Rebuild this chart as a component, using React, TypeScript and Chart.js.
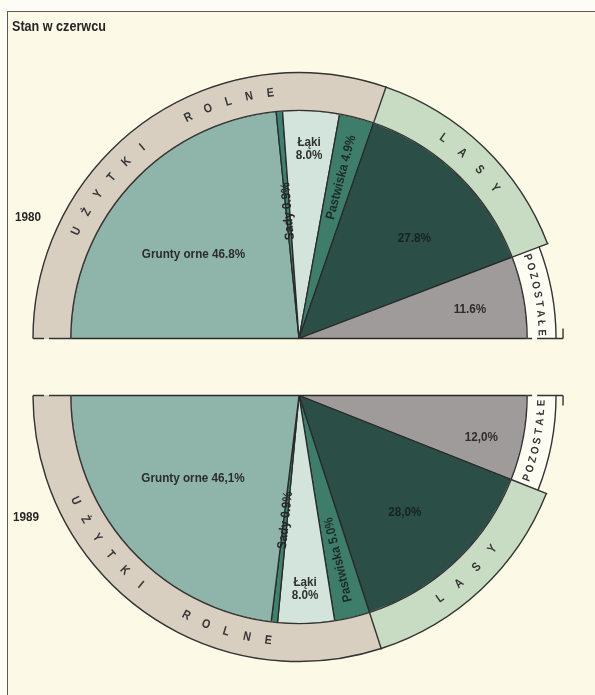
import React, { useEffect, useRef } from 'react';
import { Chart, registerables } from 'chart.js';

Chart.register(...registerables);

// ---------- data ----------
const title = 'Stan w czerwcu';
const years = ['1980', '1989'];
const categories = ['Grunty orne', 'Sady', 'Łąki', 'Pastwiska', 'Lasy', 'Pozostałe'];
const values1980 = [46.8, 0.9, 8.0, 4.9, 27.8, 11.6];
const values1989 = [46.1, 0.9, 8.0, 5.0, 28.0, 12.0];
const sliceLabels1980 = ['Grunty orne 46.8%', 'Sady 0.9%', 'Łąki\n8.0%', 'Pastwiska 4.9%', '27.8%', '11.6%'];
const sliceLabels1989 = ['Grunty orne 46,1%', 'Sady 0.9%', 'Łąki\n8.0%', 'Pastwiska 5.0%', '28,0%', '12,0%'];
const groupNames = ['UŻYTKI ROLNE', 'LASY', 'POZOSTAŁE'];
const groupOfCategory = [0, 0, 0, 0, 1, 2];

// ---------- styles ----------
const SLICE_COLORS = ['#8fb5aa', '#3c826e', '#d2e4dc', '#3e7d69', '#2b4e46', '#a09b9b'];
const GROUP_COLORS = ['#d9cfc1', '#c8dcc4', '#fdfdf4'];
const LABEL_COLORS = ['#2c2c2c', '#262626', '#303030', '#1d2b27', '#17231f', '#2c2c2c'];
const OUTLINE = '#333333';
const FONT_FAMILY = '"Liberation Sans", Arial, sans-serif';

type Place = { r: number; d?: number; radial?: boolean };
const PLACE_1980: Place[] = [
  { r: 0.59, d: -3.7 },
  { r: 0.56, radial: true },
  { r: 0.83 },
  { r: 0.73, radial: true },
  { r: 0.67, d: 4.9 },
  { r: 0.76, d: 0.8 },
];
const PLACE_1989: Place[] = [
  { r: 0.59, d: -3.4 },
  { r: 0.55, radial: true },
  { r: 0.85 },
  { r: 0.74, radial: true },
  { r: 0.69, d: -1.0 },
  { r: 0.82, d: -2.1 },
];
const RING_TEXT = [
  { step: 21.5, gap: 55, font: `bold 12.5px ${FONT_FAMILY}`, sx: 0.85 },
  { step: 24, gap: 0, font: `bold 12.5px ${FONT_FAMILY}`, sx: 0.85 },
  { step: 9.6, gap: 0, font: `bold 11px ${FONT_FAMILY}`, sx: 0.88 },
];

function drawText(ctx: CanvasRenderingContext2D, text: string, x: number, y: number, rot: number, font: string, color: string, sx: number) {
  ctx.save();
  ctx.translate(x, y);
  ctx.rotate(rot);
  ctx.scale(sx, 1);
  ctx.font = font;
  ctx.fillStyle = color;
  ctx.textAlign = 'center';
  ctx.textBaseline = 'middle';
  ctx.fillText(text, 0, 0);
  ctx.restore();
}

function makeChart(
  canvas: HTMLCanvasElement,
  values: number[],
  labels: string[],
  placement: Place[],
  flip: boolean,
  padding: { left: number; right: number; top: number; bottom: number }
) {
  const n = values.length;
  const idx = values.map((_, i) => i);
  const order = flip ? [...idx].reverse() : idx;
  const gOrder = flip ? [2, 1, 0] : [0, 1, 2];
  const dir = flip ? -1 : 1;
  const groupTotals = groupNames.map((_, g) =>
    values.reduce((s, v, i) => (groupOfCategory[i] === g ? s + v : s), 0)
  );

  const decor = {
    id: 'decor',
    afterDatasetsDraw(chart: any) {
      const ctx: CanvasRenderingContext2D = chart.ctx;
      const outerEls = chart.getDatasetMeta(0).data as any[];
      const midEls = chart.getDatasetMeta(1).data as any[];
      const pieEls = chart.getDatasetMeta(2).data as any[];
      const cx = pieEls[0].x;
      const cy = pieEls[0].y;
      const pieR = pieEls[0].outerRadius;
      const rOut = outerEls[0].outerRadius;
      const rMid = midEls[0].outerRadius;
      const pt = (a: number, r: number) => [cx + r * Math.cos(a), cy + r * Math.sin(a)];
      const radial = (a: number, r1: number, r2: number) => {
        const [x1, y1] = pt(a, r1);
        const [x2, y2] = pt(a, r2);
        ctx.beginPath();
        ctx.moveTo(x1, y1);
        ctx.lineTo(x2, y2);
        ctx.stroke();
      };

      ctx.save();
      ctx.strokeStyle = OUTLINE;
      ctx.lineWidth = 1.4;
      // pie outer edge
      ctx.beginPath();
      ctx.arc(cx, cy, pieR, pieEls[0].startAngle, pieEls[n - 1].endAngle);
      ctx.stroke();
      // ring outer edges
      midEls.forEach((el: any, k: number) => {
        const g = gOrder[k];
        ctx.beginPath();
        ctx.arc(cx, cy, g === 2 ? rMid : rOut, el.startAngle, el.endAngle);
        ctx.stroke();
      });
      // dividers
      for (let k = 1; k < midEls.length; k++) {
        radial(midEls[k].startAngle, pieR, rOut + 1);
      }
      // ends on the baseline
      const ends = [
        { a: midEls[0].startAngle, el: midEls[0], g: gOrder[0] },
        { a: midEls[midEls.length - 1].endAngle, el: midEls[midEls.length - 1], g: gOrder[midEls.length - 1] },
      ];
      ends.forEach(({ a, el, g }) => {
        if (g === 0) {
          ctx.setLineDash([11, 5, 40]);
          radial(a, rOut, pieR);
          ctx.setLineDash([]);
        } else {
          const rEnd = rMid + 7;
          ctx.setLineDash([5, 5, 100]);
          radial(a, pieR, rEnd);
          ctx.setLineDash([]);
          const midA = (el.startAngle + el.endAngle) / 2;
          const s = Math.sign(midA - a);
          const [px, py] = pt(a, rEnd);
          ctx.beginPath();
          ctx.moveTo(px, py);
          ctx.lineTo(px + s * -Math.sin(a) * 10, py + s * Math.cos(a) * 10);
          ctx.stroke();
        }
      });
      ctx.restore();

      // ring lettering
      midEls.forEach((el: any, k: number) => {
        const g = gOrder[k];
        const cfg = RING_TEXT[g];
        const r = g === 2 ? (pieR + rMid) / 2 : (pieR + rOut) / 2;
        const mid = (el.startAngle + el.endAngle) / 2;
        const chars: { ch: string; s: number }[] = [];
        let s = 0;
        let first = true;
        groupNames[g].split(' ').forEach((w, wi) => {
          if (wi > 0) s += cfg.gap - cfg.step;
          for (const ch of w) {
            if (!first) s += cfg.step;
            chars.push({ ch, s });
            first = false;
          }
        });
        const total = s;
        chars.forEach(({ ch, s: pos }) => {
          const a = mid + (dir * (pos - total / 2)) / r;
          const [x, y] = pt(a, r);
          drawText(ctx, ch, x, y, a + (dir * Math.PI) / 2, cfg.font, '#363636', cfg.sx);
        });
      });

      // slice labels
      pieEls.forEach((el: any, k: number) => {
        const i = order[k];
        const p = placement[i];
        const mid = (el.startAngle + el.endAngle) / 2;
        const a = mid + (dir * (p.d || 0) * Math.PI) / 180;
        const [x, y] = pt(a, p.r * pieR);
        let rot = 0;
        if (p.radial) rot = Math.sin(a) < 0 ? a : a + Math.PI;
        const lines = labels[i].split('\n');
        lines.forEach((ln, li) => {
          drawText(ctx, ln, x, y + (li - (lines.length - 1) / 2) * 13, rot, `bold 13px ${FONT_FAMILY}`, LABEL_COLORS[i], 0.9);
        });
      });
    },
  };

  const ringData = gOrder.map((g) => groupTotals[g]);
  return new Chart(canvas, {
    type: 'doughnut',
    data: {
      labels: order.map((i) => categories[i]),
      datasets: [
        {
          data: ringData,
          backgroundColor: gOrder.map((g) => (g === 2 ? 'rgba(0,0,0,0)' : GROUP_COLORS[g])),
          borderColor: gOrder.map((g) => (g === 2 ? 'rgba(0,0,0,0)' : GROUP_COLORS[g])),
          borderWidth: 1,
          weight: 9,
        } as any,
        {
          data: ringData,
          backgroundColor: gOrder.map((g) => GROUP_COLORS[g]),
          borderColor: gOrder.map((g) => GROUP_COLORS[g]),
          borderWidth: 1,
          weight: 29,
        } as any,
        {
          data: order.map((i) => values[i]),
          backgroundColor: order.map((i) => SLICE_COLORS[i]),
          borderColor: '#2a2a2a',
          borderWidth: 1.3,
          weight: 229,
        } as any,
      ],
    },
    options: {
      responsive: false,
      animation: false,
      devicePixelRatio: 1,
      events: [],
      cutout: 0,
      rotation: flip ? 90 : -90,
      circumference: 180,
      layout: { padding },
      plugins: { legend: { display: false }, tooltip: { enabled: false }, title: { display: false } },
    } as any,
    plugins: [decor],
  });
}

const textStyle = (left: number, top: number, size: number): React.CSSProperties => ({
  position: 'absolute',
  left,
  top,
  fontFamily: FONT_FAMILY,
  fontWeight: 'bold',
  fontSize: size,
  lineHeight: `${size}px`,
  color: '#262626',
  transform: 'scaleX(0.9)',
  transformOrigin: 'left top',
  whiteSpace: 'nowrap',
});

export default function App() {
  const topRef = useRef<HTMLCanvasElement>(null);
  const botRef = useRef<HTMLCanvasElement>(null);

  useEffect(() => {
    const c1 = makeChart(topRef.current!, values1980, sliceLabels1980, PLACE_1980, false, {
      left: 32, right: 29, top: 72, bottom: 11,
    });
    const c2 = makeChart(botRef.current!, values1989, sliceLabels1989, PLACE_1989, true, {
      left: 32, right: 29, top: 45, bottom: 33,
    });
    return () => {
      c1.destroy();
      c2.destroy();
    };
  }, []);

  return (
    <div style={{ position: 'fixed', left: 0, top: 0, width: 595, height: 695, background: '#fdfdf6', overflow: 'hidden' }}>
      <div
        style={{
          position: 'absolute', left: 7, top: 11, width: 600, height: 700, background: '#fcfae6',
          borderLeft: '1.5px solid #5a5a5a', borderTop: '1.5px solid #5a5a5a',
        }}
      />
      <canvas ref={topRef} width={595} height={350} style={{ position: 'absolute', left: 0, top: 0 }} />
      <canvas ref={botRef} width={595} height={345} style={{ position: 'absolute', left: 0, top: 350 }} />
      <div style={textStyle(12, 19, 14)}>{title}</div>
      <div style={textStyle(15, 210, 13)}>{years[0]}</div>
      <div style={textStyle(13, 510, 13)}>{years[1]}</div>
    </div>
  );
}
